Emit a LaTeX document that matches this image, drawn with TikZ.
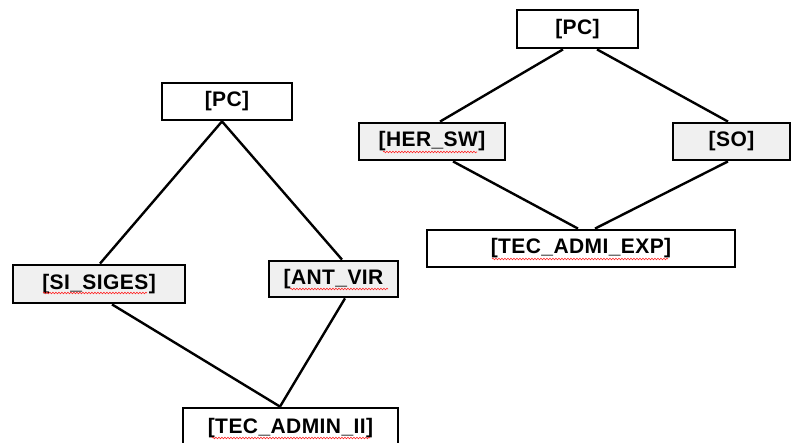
\documentclass[tikz,border=0pt]{standalone}
\usepackage{fontspec}
\setmainfont{Liberation Sans}
\usetikzlibrary{calc,decorations.pathmorphing}
\definecolor{boxgray}{HTML}{F0F0F0}
\tikzset{
  box/.style={draw=black, line width=2.8pt, rectangle, inner sep=0pt,
    font=\fontsize{21}{24}\selectfont\bfseries\addfontfeatures{LetterSpace=2}, text=black},
  graybox/.style={box, fill=boxgray},
  whitebox/.style={box, fill=white},
  link/.style={draw=black, line width=2.4pt},
  wavy/.style={draw=red!85, line width=0.6pt, decorate,
    decoration={snake, segment length=3pt, amplitude=0.8pt}}
}
\begin{document}
\begin{tikzpicture}[x=1pt,y=1pt]
\useasboundingbox (0,0) rectangle (792,442);
% left graph
\node[whitebox, minimum width=130, minimum height=37] (pcL) at (227,340.5) {[PC]};
\node[graybox, minimum width=172, minimum height=38] (si) at (99,158) {[SI\_SIGES]};
\node[graybox, minimum width=129, minimum height=36] (ant) at (333.5,163) {[ANT\_VIR};
\node[whitebox, minimum width=215, minimum height=40] (tec2) at (290.5,14) {[TEC\_ADMIN\_II]};
% right graph
\node[whitebox, minimum width=121, minimum height=38] (pcR) at (577.5,413) {[PC]};
\node[graybox, minimum width=146, minimum height=37] (her) at (432,300.5) {[HER\_SW]};
\node[graybox, minimum width=117, minimum height=37] (so) at (731.5,300.5) {[SO]};
\node[whitebox, minimum width=308, minimum height=37] (tecE) at (581,193.5) {[TEC\_ADMI\_EXP]};
% connectors left
\draw[link] ($(pcL.south)+(-5,0)$) -- ($(si.north)+(1,0)$);
\draw[link] ($(pcL.south)+(-5,0)$) -- ($(ant.north)+(8.5,0)$);
\draw[link] ($(si.south)+(13,0)$) -- ($(tec2.north)+(-10.5,0)$);
\draw[link] ($(ant.south)+(11.5,0)$) -- ($(tec2.north)+(-10.5,0)$);
% connectors right
\draw[link] ($(pcR.south)+(-14.5,0)$) -- ($(her.north)+(8,0)$);
\draw[link] ($(pcR.south)+(19.5,0)$) -- ($(so.north)+(-3.5,0)$);
\draw[link] ($(her.south)+(21,0)$) -- ($(tecE.north)+(-3,0)$);
\draw[link] ($(so.south)+(-3.5,0)$) -- ($(tecE.north)+(14,0)$);
% spell-check underlines
\draw[wavy] ($(si.center)+(-56,-9)$) -- ($(si.center)+(48,-9)$);
\draw[wavy] ($(ant.center)+(-43.5,-10)$) -- ($(ant.center)+(54.5,-10)$);
\draw[wavy] ($(tec2.center)+(-78.5,-10)$) -- ($(tec2.center)+(79.5,-10)$);
\draw[wavy] ($(her.center)+(-49,-10.5)$) -- ($(her.center)+(45,-10.5)$);
\draw[wavy] ($(tecE.center)+(-89,-10.5)$) -- ($(tecE.center)+(87,-10.5)$);
\end{tikzpicture}
\end{document}
